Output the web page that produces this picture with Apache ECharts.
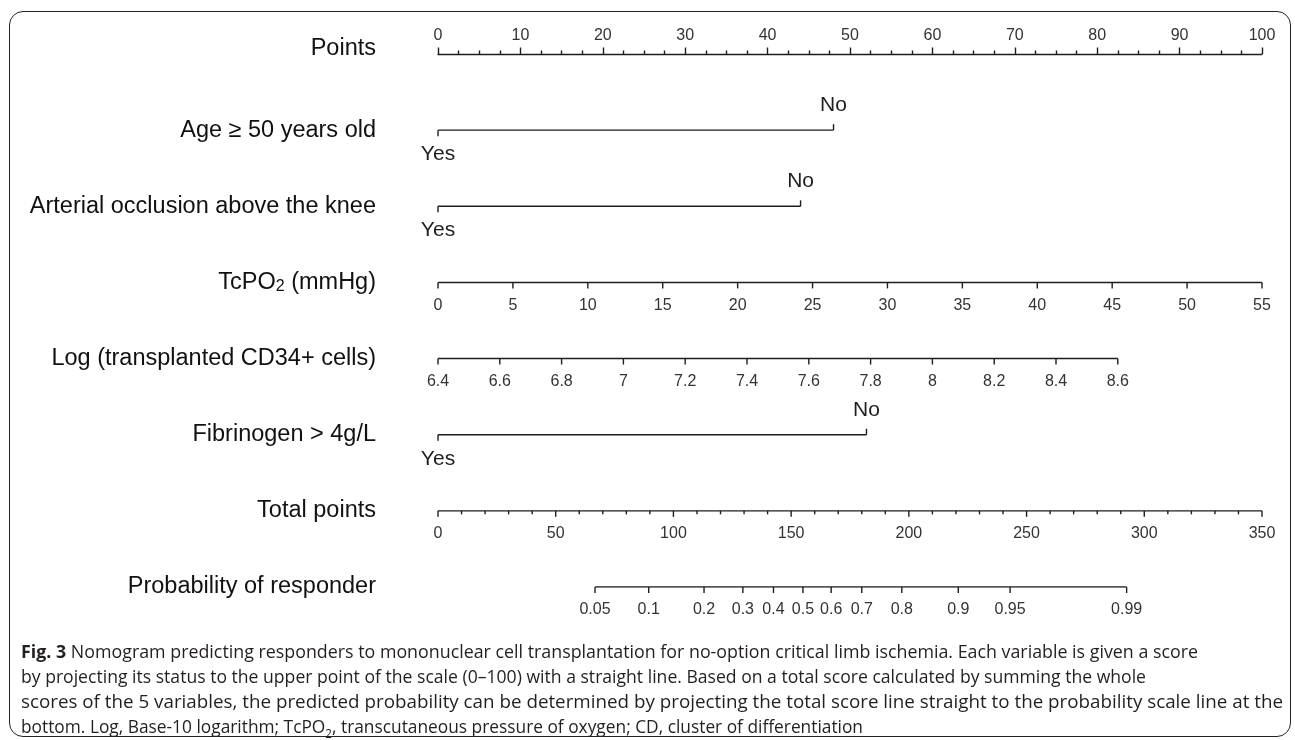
<!DOCTYPE html>
<html>
<head>
<meta charset="utf-8">
<script src="https://cdn.jsdelivr.net/npm/echarts@6/dist/echarts.min.js"></script>
<style>
html,body{margin:0;padding:0;background:#fff;}
#wrap{position:relative;width:1295px;height:740px;overflow:hidden;background:#fff;}
#chart{position:absolute;left:0;top:0;width:1295px;height:740px;}
#frame{position:absolute;left:9px;top:11px;width:1282px;height:726px;border:1.6px solid #222;border-radius:14px;box-sizing:border-box;pointer-events:none;}
#caption{position:absolute;left:21px;top:639px;font-family:'Open Sans',sans-serif;font-size:18px;line-height:25px;color:#231f20;white-space:nowrap;}
#caption .ln{display:block;transform-origin:0 0;width:max-content;}
#caption b{font-weight:700;}
#caption sub{font-size:12px;line-height:0;}
</style>
</head>
<body>
<div id="wrap">
  <div id="chart"></div>
  <div id="frame"></div>
  <div id="caption">
    <span class="ln" data-w="1177"><b>Fig. 3</b> Nomogram predicting responders to mononuclear cell transplantation for no-option critical limb ischemia. Each variable is given a score</span>
    <span class="ln" data-w="1125">by projecting its status to the upper point of the scale (0–100) with a straight line. Based on a total score calculated by summing the whole</span>
    <span class="ln" data-w="1262">scores of the 5 variables, the predicted probability can be determined by projecting the total score line straight to the probability scale line at the</span>
    <span class="ln" data-w="842">bottom. Log, Base-10 logarithm; TcPO<sub>2</sub>, transcutaneous pressure of oxygen; CD, cluster of differentiation</span>
  </div>
</div>
<script>
// ---------------- data ----------------
const rowNames = ['Points', 'Age ≥ 50 years old', 'Arterial occlusion above the knee', 'TcPO2 (mmHg)',
  'Log (transplanted CD34+ cells)', 'Fibrinogen > 4g/L', 'Total points', 'Probability of responder'];

const pointsMin = 0, pointsMax = 100, pointsStep = 10;

const ageLevels = ['Yes', 'No'];
const agePoints = [0, 48];
const arteryLevels = ['Yes', 'No'];
const arteryPoints = [0, 44];
const fibLevels = ['Yes', 'No'];
const fibPoints = [0, 52];

const tcpo2Ticks = [0, 5, 10, 15, 20, 25, 30, 35, 40, 45, 50, 55];
const tcpo2Range = [0, 55];
const tcpo2PointRange = [0, 100];

const cd34Ticks = [6.4, 6.6, 6.8, 7, 7.2, 7.4, 7.6, 7.8, 8, 8.2, 8.4, 8.6];
const cd34Range = [6.4, 8.6];
const cd34PointRange = [0, 82.5];

const totalTicks = [0, 50, 100, 150, 200, 250, 300, 350];
const totalMinorSplit = 5;
const totalRange = [0, 350];
const totalPointRange = [0, 100];

const probTicks = [0.05, 0.1, 0.2, 0.3, 0.4, 0.5, 0.6, 0.7, 0.8, 0.9, 0.95, 0.99];
const probAtTotal = [66.7, 89.5, 113, 129.5, 142.5, 155, 167, 180, 197, 221, 243, 292.5];

// ---------------- helpers ----------------
const FONT = "'Liberation Sans', Arial, Helvetica, sans-serif";
const INK = '#1e1e1e';
const TICKTXT = '#333333';
const lin = (v, s, p) => p[0] + (v - s[0]) * (p[1] - p[0]) / (s[1] - s[0]);

function ticksSeries(row, xs, labels, lens, dirs, offs, fontSize, color) {
  return {
    type: 'custom', silent: true, clip: false, animation: false, z: 3,
    data: xs.map(x => [x, row]),
    renderItem(params, api) {
      const i = params.dataIndex;
      const p = api.coord([api.value(0), api.value(1)]);
      const ch = [{
        type: 'line',
        shape: { x1: p[0], y1: p[1], x2: p[0], y2: p[1] + dirs[i] * lens[i] },
        style: { stroke: INK, lineWidth: 1.4 }
      }];
      if (labels[i] !== '' && labels[i] != null) {
        ch.push({
          type: 'text',
          style: {
            text: String(labels[i]), x: p[0], y: p[1] + offs[i],
            align: 'center', verticalAlign: 'middle',
            font: fontSize + 'px ' + FONT, fill: color
          }
        });
      }
      return { type: 'group', children: ch };
    }
  };
}
function axisLine(row, x0, x1) {
  return {
    type: 'line', silent: true, animation: false, symbol: 'none', z: 2,
    data: [[x0, row], [x1, row]],
    lineStyle: { color: INK, width: 1.4 }
  };
}
function categorical(row, levels, pts) {
  return [
    axisLine(row, Math.min(...pts), Math.max(...pts)),
    ticksSeries(row, pts, levels,
      levels.map(() => 6),
      levels.map((_, i) => i % 2 === 0 ? 1 : -1),
      levels.map((_, i) => i % 2 === 0 ? 24 : -25),
      21, INK)
  ];
}
function continuous(row, xs, labels, lens) {
  return [
    axisLine(row, Math.min(...xs), Math.max(...xs)),
    ticksSeries(row, xs, labels, lens || xs.map(() => 6), xs.map(() => 1), xs.map(() => 23), 16, TICKTXT)
  ];
}

// total points with minor ticks
const totalXs = [], totalLabels = [], totalLens = [];
totalTicks.forEach((t, k) => {
  totalXs.push(lin(t, totalRange, totalPointRange)); totalLabels.push(t); totalLens.push(6);
  if (k < totalTicks.length - 1) {
    const step = (totalTicks[k + 1] - t) / totalMinorSplit;
    for (let j = 1; j < totalMinorSplit; j++) {
      totalXs.push(lin(t + j * step, totalRange, totalPointRange)); totalLabels.push(''); totalLens.push(3.5);
    }
  }
});

const series = [
  ...categorical(1, ageLevels, agePoints),
  ...categorical(2, arteryLevels, arteryPoints),
  ...continuous(3, tcpo2Ticks.map(v => lin(v, tcpo2Range, tcpo2PointRange)), tcpo2Ticks),
  ...continuous(4, cd34Ticks.map(v => lin(v, cd34Range, cd34PointRange)), cd34Ticks),
  ...categorical(5, fibLevels, fibPoints),
  ...continuous(6, totalXs, totalLabels, totalLens),
  ...continuous(7, probAtTotal.map(v => lin(v, totalRange, totalPointRange)), probTicks)
];

const chart = echarts.init(document.getElementById('chart'), null, { renderer: 'canvas' });
chart.setOption({
  animation: false,
  backgroundColor: 'transparent',
  textStyle: { fontFamily: FONT },
  grid: { left: 438, right: 33, top: 54, bottom: 153, outerBoundsMode: 'none' },
  xAxis: {
    type: 'value', position: 'top', min: pointsMin, max: pointsMax, interval: pointsStep,
    axisLine: { show: true, lineStyle: { color: INK, width: 1.4 } },
    axisTick: { show: true, inside: false, length: 6.5, lineStyle: { color: INK, width: 1.4 } },
    minorTick: { show: true, splitNumber: 4, length: 3.5, lineStyle: { color: INK, width: 1.4 } },
    splitLine: { show: false },
    minorSplitLine: { show: false },
    axisLabel: { margin: 10, fontSize: 16, color: TICKTXT, fontFamily: FONT }
  },
  yAxis: {
    type: 'value', min: 0, max: rowNames.length - 1, interval: 1, inverse: true,
    axisLine: { show: false }, axisTick: { show: false }, splitLine: { show: false },
    axisLabel: {
      margin: 62, fontSize: 23.5, color: '#111', fontFamily: FONT,
      formatter: v => {
        const name = rowNames[v];
        if (v === 0) return '{p|' + name + '}';
        if (name.indexOf('TcPO2') === 0) return '{n|TcPO}{s|2}{n|' + name.slice(5) + '}';
        return '{n|' + name + '}';
      },
      rich: {
        n: { fontSize: 23.5, color: '#111', fontFamily: FONT },
        p: { fontSize: 23.5, color: '#111', fontFamily: FONT, padding: [0, 0, 10, 0] },
        s: { fontSize: 16, color: '#111', fontFamily: FONT, verticalAlign: 'bottom', padding: [6, 0, 0, 0] }
      }
    }
  },
  series
});

// fit each caption line to the width it has in the reference
document.querySelectorAll('#caption .ln').forEach(el => {
  const w = el.getBoundingClientRect().width;
  el.style.transform = 'scaleX(' + (Number(el.dataset.w) / w) + ')';
});
</script>
</body>
</html>
